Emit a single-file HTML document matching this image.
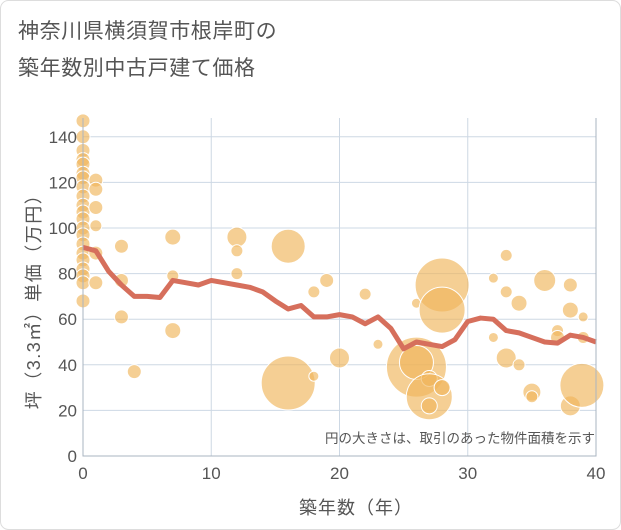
<!DOCTYPE html>
<html><head><meta charset="utf-8"><style>
body{margin:0;background:#fff;font-family:"Liberation Sans","Noto Sans CJK JP",sans-serif;}
#wrap{position:relative;width:621px;height:530px;overflow:hidden;}
</style></head><body>
<div id="wrap">
<svg id="chart" width="621" height="530" font-family="'Liberation Sans','Noto Sans CJK JP',sans-serif">
<rect x="0.5" y="0.5" width="620" height="529" rx="8" fill="#fff" stroke="#ddd"/>
<text x="18" y="38" font-size="21" letter-spacing="0.6" fill="#555">神奈川県横須賀市根岸町の</text>
<text x="18" y="75" font-size="21" letter-spacing="0.6" fill="#555">築年数別中古戸建て価格</text>
<g id="grid"></g>
<g id="bubbles"></g>
<g id="line"></g>
<g id="axes"></g>
<text x="595" y="443" font-size="13.5" fill="#555" text-anchor="end">円の大きさは、取引のあった物件面積を示す</text>
<text x="356" y="514" font-size="18" letter-spacing="1" fill="#555" text-anchor="middle">築年数（年）</text>
<text transform="translate(40,297) rotate(-90)" font-size="18" letter-spacing="1.5" fill="#555" text-anchor="middle">坪（3.3㎡）単価（万円）</text>
</svg>
</div>
<script>
const xTicks=[0,10,20,30,40];
const yTicks=[0,20,40,60,80,100,120,140];
const bubbleAge=[0,0,0,0,0,0,0,0,0,0,0,0,0,0,0,0,0,0,0,0,0,1,1,1,1,1,1,3,3,3,4,7,7,7,12,12,12,16,16,18,18,19,20,22,23,26,26,26,27,27,27,28,28,28,32,32,33,33,33,34,34,36,35,35,37,37,38,38,38,39,39,38.9];
const bubblePrice=[147,140,134,130,128,124,122,118,114,110,107,104,100,97,93,89,86,82,79,76,68,121,117,109,101,89,76,92,77,61,37,96,79,55,96,90,80,92,32,72,35,77,43,71,49,67,39,41,34,26,22,75,64,30,78,52,88,72,43,67,40,77,28,26,55,52,75,64,22,61,52,31];
const bubbleSize=[7,7,7,7,7,7,7,7,7,7,7,7,7,7,7,7,7,7,7,7,7,7,7,7,6,7,7,7,7,7,7,8,6,8,10,6,6,17,27,6,5,7,10,6,5,5,30,17,8,23,8,27,23,8,5,5,6,6,10,8,6,11,9,6,6,7,7,8,10,5,6,22];
const lineAge=[0,1,2,3,4,5,6,7,8,9,10,11,12,13,14,15,16,17,18,19,20,21,22,23,24,25,26,27,28,29,30,31,32,33,34,35,36,37,38,39,40];
const linePrice=[91.5,90,81,75,70,70,69.5,77,76,75,77,76,75,74,72,68,64.5,66,61,61,62,61,58,61,56,47,50,49,48,51,59,60.5,60,55,54,52,50,49.5,53,52,50];
const X=v=>83+v*12.825, Y=v=>456-v*2.28;
const NS='http://www.w3.org/2000/svg';
function mk(tag,parent,attrs){const e=document.createElementNS(NS,tag);for(const k in attrs)e.setAttribute(k,attrs[k]);parent.appendChild(e);return e;}
const grid=document.getElementById('grid'),axes=document.getElementById('axes');
yTicks.forEach(t=>{
 const l=mk('line',grid,{x1:83,x2:596,y1:Y(t),y2:Y(t),stroke:'#cdd8e4','stroke-width':1});
 
 
 const tx=mk('text',axes,{x:77,y:Y(t)+6,'font-size':17,fill:'#555','text-anchor':'end'});tx.textContent=t;
 
 
});
xTicks.forEach(t=>{
 const l=mk('line',grid,{x1:X(t),x2:X(t),y1:118,y2:456,stroke:'#cdd8e4','stroke-width':1});
 
 
 const tx=mk('text',axes,{x:X(t),y:479,'font-size':17,fill:'#555','text-anchor':'middle'});tx.textContent=t;
 
 
});
const ax=mk('path',axes,{d:'M83,118V456H596V118',fill:'none',stroke:'#aab4c0','stroke-width':1});


const bg=document.getElementById('bubbles');
bubbleAge.forEach((a,i)=>{
 const c=mk('circle',bg,{cx:X(a),cy:Y(bubblePrice[i]),r:bubbleSize[i],fill:'#f0b65a','fill-opacity':0.65,stroke:'#fff','stroke-width':1});
 
 
});
const pts=lineAge.map((a,i)=>X(a)+','+Y(linePrice[i])).join(' ');
const pl=mk('polyline',document.getElementById('line'),{points:pts,fill:'none',stroke:'#d66f5c','stroke-width':5,'stroke-linejoin':'round'});


</script>
</body></html>
